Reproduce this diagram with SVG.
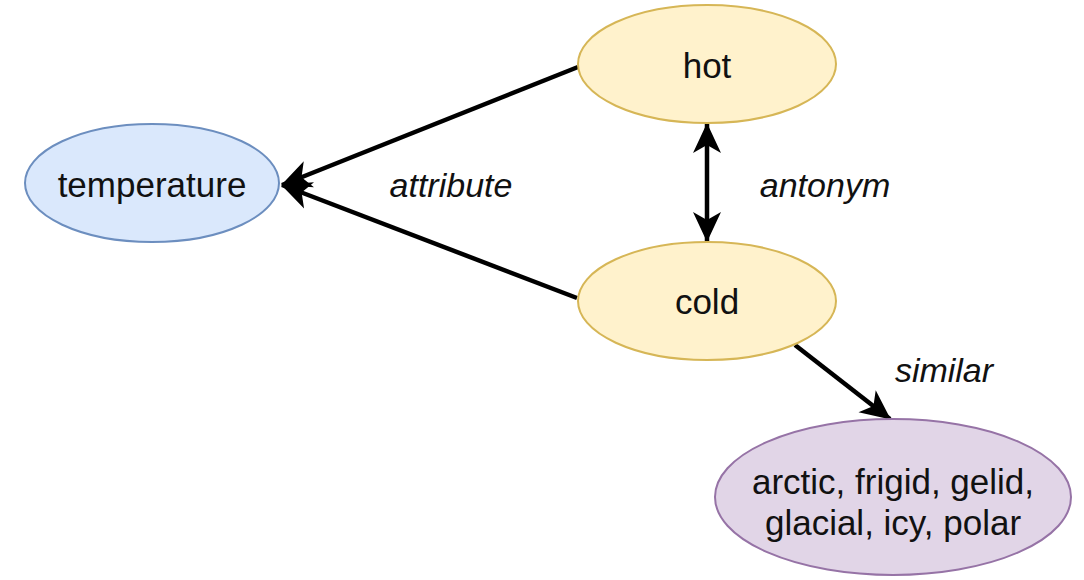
<svg xmlns="http://www.w3.org/2000/svg" width="1084" height="580" viewBox="0 0 1084 580">
  <style>
    .node text { font-family: "Liberation Sans", Arial, sans-serif; font-size: 35px; fill: #111; text-anchor: middle; }
    .lbl { font-family: "Liberation Sans", Arial, sans-serif; font-size: 34px; font-style: italic; fill: #111; text-anchor: middle; }
    .edge { stroke: #000; stroke-width: 4.5; fill: none; }
    .blue { fill: #dae8fc; stroke: #6c8ebf; stroke-width: 2; }
    .yellow { fill: #fff2cc; stroke: #d6b656; stroke-width: 2; }
    .purple { fill: #e1d5e7; stroke: #9673a6; stroke-width: 2; }
  </style>
  <defs>
    <marker id="arrow" viewBox="0 0 30 30" refX="29" refY="15" markerWidth="30" markerHeight="30" markerUnits="userSpaceOnUse" orient="auto-start-reverse">
      <path d="M0,1 L30,15 L0,29 L8,15 Z" fill="#000"/>
    </marker>
  </defs>
  <rect width="1084" height="580" fill="#fff"/>

  <g id="edges">
    <line class="edge" x1="578" y1="67" x2="282" y2="185" marker-end="url(#arrow)"/>
    <line class="edge" x1="577" y1="298" x2="282" y2="185" marker-end="url(#arrow)"/>
    <line class="edge" x1="707" y1="124" x2="707" y2="241" marker-start="url(#arrow)" marker-end="url(#arrow)"/>
    <line class="edge" x1="795" y1="345" x2="890" y2="419" marker-end="url(#arrow)"/>
    <text class="lbl" x="451" y="197">attribute</text>
    <text class="lbl" x="825" y="197">antonym</text>
    <text class="lbl" x="944" y="382">similar</text>
  </g>

  <g id="temperature" class="node">
    <ellipse class="blue" cx="152" cy="183" rx="127" ry="59"/>
    <text x="152" y="197">temperature</text>
  </g>
  <g id="hot" class="node">
    <ellipse class="yellow" cx="707" cy="64" rx="129" ry="59"/>
    <text x="707" y="78">hot</text>
  </g>
  <g id="cold" class="node">
    <ellipse class="yellow" cx="707" cy="301" rx="129" ry="59"/>
    <text x="707" y="314">cold</text>
  </g>
  <g id="similar-words" class="node">
    <ellipse class="purple" cx="893" cy="497" rx="178" ry="78"/>
    <text x="893" y="494">arctic, frigid, gelid,</text>
    <text x="893" y="535">glacial, icy, polar</text>
  </g>
</svg>
